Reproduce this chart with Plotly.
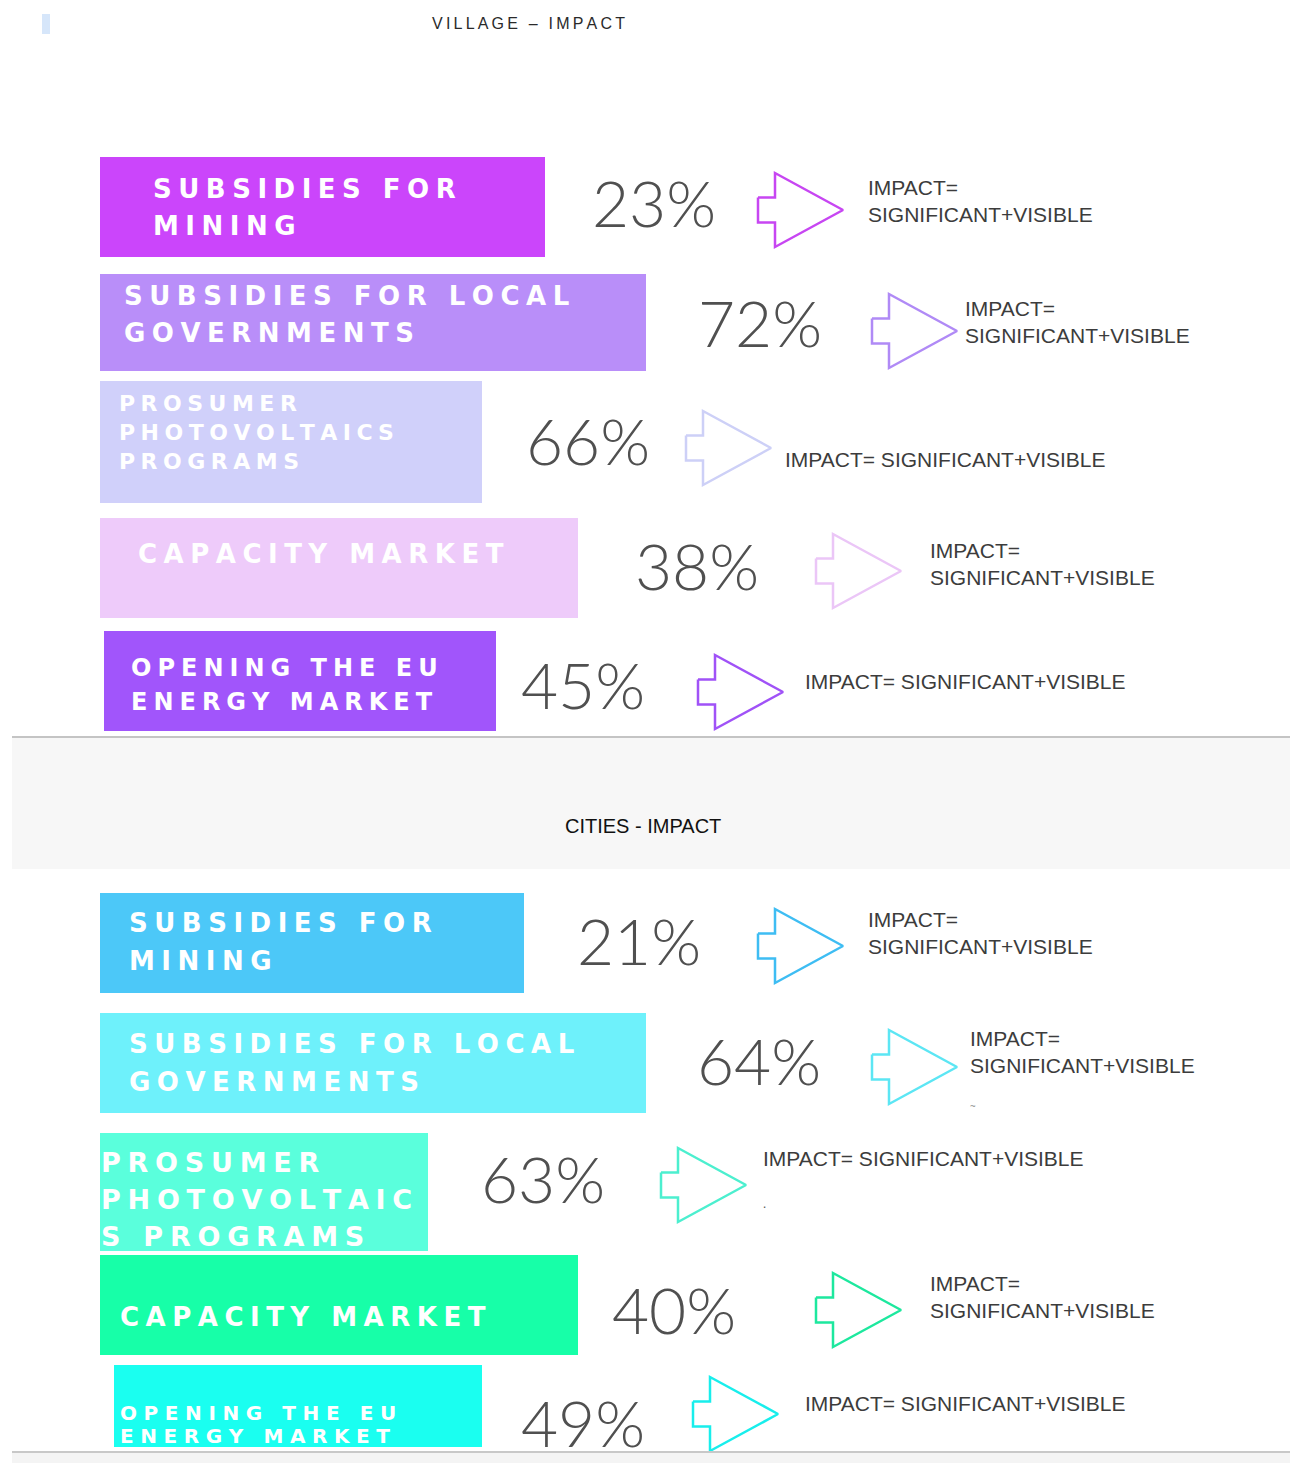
import plotly.graph_objects as go

# ---- data ----
village_labels = ["SUBSIDIES FOR<br>MINING", "SUBSIDIES FOR LOCAL<br>GOVERNMENTS",
                  "PROSUMER<br>PHOTOVOLTAICS<br>PROGRAMS", "CAPACITY MARKET",
                  "OPENING THE EU<br>ENERGY MARKET"]
village_pct = [23, 72, 66, 38, 45]
village_bar_len = [445, 546, 382, 478, 392]
village_impact = ["IMPACT=<br>SIGNIFICANT+VISIBLE", "IMPACT=<br>SIGNIFICANT+VISIBLE",
                  "IMPACT= SIGNIFICANT+VISIBLE", "IMPACT=<br>SIGNIFICANT+VISIBLE",
                  "IMPACT= SIGNIFICANT+VISIBLE"]

cities_labels = ["SUBSIDIES FOR<br>MINING", "SUBSIDIES FOR LOCAL<br>GOVERNMENTS",
                 "PROSUMER<br>PHOTOVOLTAIC<br>S PROGRAMS", "CAPACITY MARKET",
                 "OPENING THE EU<br>ENERGY MARKET"]
cities_pct = [21, 64, 63, 40, 49]
cities_bar_len = [424, 546, 328, 478, 368]
cities_impact = ["IMPACT=<br>SIGNIFICANT+VISIBLE", "IMPACT=<br>SIGNIFICANT+VISIBLE",
                 "IMPACT= SIGNIFICANT+VISIBLE", "IMPACT=<br>SIGNIFICANT+VISIBLE",
                 "IMPACT= SIGNIFICANT+VISIBLE"]

# ---- layout / style (pixel canvas) ----
W, H = 1302, 1463
OFF = 8  # default page margin of the html body
village_colors = ["#CB45FB", "#B98EF9", "#D0D0FA", "#EECBFA", "#A155FB"]
village_arrow_colors = ["#C746F2", "#B08AF6", "#CDD0F7", "#EBC6F7", "#A052F7"]
cities_colors = ["#4CC8F8", "#6EF1FB", "#5AFFDC", "#17FFA8", "#1AFFF0"]
cities_arrow_colors = ["#3EBDF3", "#5CE6F4", "#4CEFCF", "#1DE89E", "#18EEEC"]

panels = [
    dict(labels=village_labels, pct=village_pct, bar_len=village_bar_len, impact=village_impact,
         colors=village_colors, arrow_colors=village_arrow_colors,
         bar_x0=[100, 100, 100, 100, 104], bar_y=[207, 322.5, 442, 568, 681], bar_h=[100, 97, 122, 100, 100],
         lab_x=[151, 122, 117, 136, 129], lab_y=[189, 296, 403, 554, 668], lab_gap=[37, 37, 29, 0, 34],
         lab_size=[26, 26, 22, 26, 24], lab_sp=["\u2005"] * 5,
         pct_x=[654, 760, 588, 697, 583], pct_y=[202, 322, 440, 565, 684],
         arr_x=[758, 872, 686, 816, 698], arr_y=[210, 331, 448, 571, 692],
         imp_x=[866, 963, 783, 928, 803], imp_y=[201, 322, 459, 564, 681]),
    dict(labels=cities_labels, pct=cities_pct, bar_len=cities_bar_len, impact=cities_impact,
         colors=cities_colors, arrow_colors=cities_arrow_colors,
         bar_x0=[100, 100, 100, 100, 114], bar_y=[943, 1063, 1192, 1305, 1406], bar_h=[100, 100, 118, 100, 82],
         lab_x=[127, 127, 99, 118, 118], lab_y=[923, 1044, 1162, 1317, 1413], lab_gap=[38, 38, 37, 0, 23],
         lab_size=[26, 26, 27, 26, 20], lab_sp=["\u2005"] * 4 + ["\u2004"],
         pct_x=[639, 759, 543, 674, 583], pct_y=[940, 1060, 1178, 1309, 1422],
         arr_x=[758, 872, 661, 816, 693], arr_y=[946, 1067, 1185, 1310, 1414],
         imp_x=[866, 968, 761, 928, 803], imp_y=[933, 1052, 1158, 1297, 1403]),
]

ARROW_W, ARROW_H = 85, 74
arrow_fx = [0, 0.2, 0.2, 1, 0.2, 0.2, 0, 0]
arrow_fy = [-0.17, -0.17, -0.5, 0, 0.5, 0.17, 0.17, -0.17]


def track(s, sp):
    # wide letter spacing like the original bold captions
    return sp.join(s)


fig = go.Figure()

# section divider band
fig.add_shape(type="rect", x0=12, x1=1290, y0=737, y1=869, fillcolor="#F7F7F7", line_width=0, layer="below")
fig.add_shape(type="line", x0=12, x1=1290, y0=737, y1=737, line=dict(color="#C4C4C4", width=2))
fig.add_shape(type="rect", x0=12, x1=1290, y0=1453, y1=1463, fillcolor="#F4F4F4", line_width=0, layer="below")
fig.add_shape(type="line", x0=12, x1=1290, y0=1452, y1=1452, line=dict(color="#C8C8C8", width=2))
fig.add_shape(type="rect", x0=42, x1=50, y0=14, y1=34, fillcolor="#D6E6FA", line_width=0)

for p in panels:
    fig.add_trace(go.Bar(
        orientation="h", y=p["bar_y"], x=p["bar_len"], base=p["bar_x0"], width=p["bar_h"],
        marker=dict(color=p["colors"], line_width=0), hoverinfo="skip",
    ))
    for i in range(len(p["labels"])):
        for k, line in enumerate(p["labels"][i].split("<br>")):
            fig.add_annotation(
                x=p["lab_x"][i], y=p["lab_y"][i] + k * p["lab_gap"][i], xanchor="left", yanchor="middle",
                text=track(line, p["lab_sp"][i]), showarrow=False,
                font=dict(family="DejaVu Sans", size=p["lab_size"][i], color="#FFFFFF", weight="bold"),
            )
        fig.add_annotation(
            x=p["pct_x"][i], y=p["pct_y"][i], xanchor="center", yanchor="middle",
            text=f"{p['pct'][i]}%", showarrow=False,
            font=dict(family="Lato", size=64, color="#505050", weight=300),
        )
        ax, ay = p["arr_x"][i], p["arr_y"][i]
        fig.add_trace(go.Scatter(
            x=[ax + f * ARROW_W for f in arrow_fx], y=[ay + f * ARROW_H for f in arrow_fy],
            mode="lines", line=dict(color=p["arrow_colors"][i], width=2.5), hoverinfo="skip",
        ))
        fig.add_annotation(
            x=p["imp_x"][i], y=p["imp_y"][i], xanchor="left", yanchor="middle", align="left",
            text=p["impact"][i], showarrow=False,
            font=dict(family="Liberation Sans, Arial", size=21, color="#3C3C3C"),
        )

# stray marks from the source image
fig.add_annotation(x=764, y=1203, text=".", showarrow=False, font=dict(size=12, color="#555555"))
fig.add_annotation(x=973, y=1106, text="~", showarrow=False, font=dict(size=10, color="#888888"))

fig.add_annotation(x=528, y=23, text=track("VILLAGE \u2013 IMPACT", "\u2009"), showarrow=False,
                   font=dict(family="Liberation Sans, Arial", size=16, color="#2A2A2A"))
fig.add_annotation(x=643, y=826, text="CITIES - IMPACT", showarrow=False,
                   font=dict(family="Liberation Sans, Arial", size=20, color="#111111"))

fig.update_layout(
    width=W - OFF, height=H - OFF, margin=dict(l=0, r=0, t=0, b=0),
    plot_bgcolor="#FFFFFF", paper_bgcolor="#FFFFFF", showlegend=False,
    xaxis=dict(range=[OFF, W], visible=False, fixedrange=True),
    yaxis=dict(range=[H, OFF], visible=False, fixedrange=True),
    bargap=0,
)

fig.write_html("out.html")
